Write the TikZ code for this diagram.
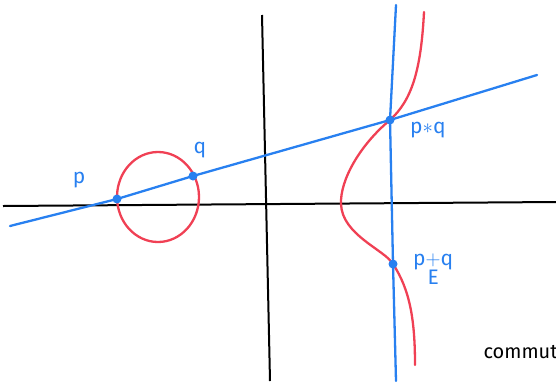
\documentclass[tikz,border=0pt]{standalone}
\usepackage{amsmath}
\usepackage{fontspec}
\setsansfont{Fira Sans}
\usepackage{xcolor}
\usetikzlibrary{positioning,calc}

\definecolor{lineblue}{RGB}{40,128,240}
\definecolor{curvered}{RGB}{240,64,84}

\tikzset{
  axis/.style={line width=2pt, black},
  secant/.style={line width=2.3pt, lineblue, line cap=round},
  curve/.style={line width=2.3pt, curvered, line cap=round},
  pt/.style={circle, fill=lineblue, inner sep=0pt, minimum size=9pt},
  lbl/.style={text=lineblue, font=\sffamily\fontsize{21}{24}\selectfont}
}

\begin{document}
\begin{tikzpicture}[x=1pt,y=-1pt]
            \useasboundingbox (0,0) rectangle (556,381);

            % axes
            \coordinate (Left) at (3,206);
            \coordinate (Right) at (556,202);
            \coordinate (Top) at (262,15);
            \coordinate (Bottom) at (270,381);
            \draw [axis] (Left) -- (Right);
            \draw [axis] (Top) -- (Bottom);

            % red curve
            \draw [curve] (158,197) ellipse (41 and 45);
            \draw [curve] (424,12) .. controls (421,70) and (412,100) .. (390,120)
                .. controls (360,145) and (340,180) .. (341,204)
                .. controls (342,235) and (385,250) .. (393,264)
                .. controls (410,290) and (415,320) .. (415,365);

            % the points
            \node (P) at (117,199) [pt] {};
            \node (Q) at (193,176) [pt] {};
            \node (PQ) at (390,120) [pt] {};
            \node (PplusQ) at (393,264) [pt] {};

            % lines
            \coordinate (SecStart) at (10,226);
            \coordinate (SecEnd) at (537,75);
            \coordinate (VertTop) at (396,5);
            \coordinate (VertEnd) at (396,381);
            \draw [secant] (SecStart) -- (P.center) -- (Q.center) -- (PQ.center) -- (SecEnd);
            \draw [secant] (VertTop) -- (PQ.center) -- (PplusQ.center) -- (VertEnd);

            % labels
            \node [lbl] at (79,180) {p};
            \node [lbl] at (200,150) {q};
            \node [lbl, right=12pt of PQ, yshift=-10pt] {p$*$q};
            \node [lbl, right=12pt of PplusQ, yshift=-6pt] {p$\underset{\textstyle\mathsf{E}}{+}$q};
            \node [font=\sffamily\fontsize{20}{24}\selectfont, anchor=west] at (480,352) {commut};
        \end{tikzpicture}
\end{document}
